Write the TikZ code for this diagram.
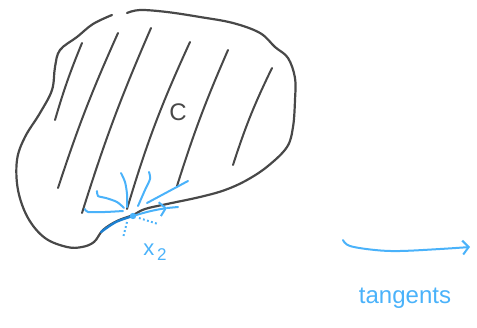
\documentclass[tikz,border=0pt]{standalone}
\usepackage{fontspec}
\setsansfont{Liberation Sans}
\usetikzlibrary{arrows.meta, calc}
\definecolor{inkgray}{RGB}{72,72,72}
\definecolor{inkblue}{RGB}{74,178,250}
\definecolor{inkdark}{RGB}{28,128,210}
\tikzset{
  % --- pen strokes ---
  pen/.style={draw=inkgray, line width=2.2pt, line cap=round, line join=round},
  hatchline/.style={pen, line width=2pt},
  bluepen/.style={draw=inkblue, line width=2pt, line cap=round, line join=round},
  darkpen/.style={draw=inkdark, line width=2.3pt, line cap=round},
  dotpen/.style={bluepen, line cap=butt, dash pattern=on 1.8pt off 2.4pt},
  barb/.style={-{Straight Barb[length=6pt, width=14pt, line width=2pt]}},
  % --- labels ---
  setlabel/.style={text=inkgray, font=\fontsize{24}{24}\sffamily, inner sep=0pt},
  bluelabel/.style={text=inkblue, font=\fontsize{22}{22}\sffamily, inner sep=0pt},
}
\begin{document}
\begin{tikzpicture}[x=1pt, y=-1pt]
  \useasboundingbox (0,0) rectangle (477,327);
  % outline of the set
  \draw[pen] plot[smooth, tension=0.6] coordinates {
    (127,13) (140,10) (167,12) (200,17) (233,23) (260,33) (275,47) (288,58)
    (295,78) (295,100) (293,127) (287,147) (268,166) (247,180) (225,190)
    (200,197) (167,204) (145,209) (133,215) (117,221) (103,230) (94,242)
    (82,247) (67,247) (45,238) (28,218) (18,190) (17,160) (25,137) (40,113)
    (52,90) (55,67) (60,50) (77,37) (93,24) (112,15)};
  % hatching
  \draw[hatchline] (82,43) to[bend right=3] (55,120);
  \draw[hatchline] (118,33) to[bend right=3] (58,188);
  \draw[hatchline] (151,28) to[bend right=3] (82,213);
  \draw[hatchline] (190,42) to[bend right=4] (127,209);
  \draw[hatchline] (228,50) to[bend right=3] (177,186);
  \draw[hatchline] (272,68) to[bend right=4] (233,165);
  \node[setlabel] (cset) at (178,112) {C};
  % the point and its directions
  \coordinate (x2) at (133,216);
  \coordinate (tanend) at (178,207);
  \draw[darkpen] plot[smooth] coordinates {(101,232) (116,222) (x2)};
  \draw[bluepen] plot[smooth] coordinates {(85,209) (88,212) (105,212) (123,211)};
  \draw[bluepen] plot[smooth] coordinates {(97,191) (98,196) (106,198) (117,202) (124,208)};
  \draw[bluepen] plot[smooth] coordinates {(121,173) (125,182) (127,194) (127,207)};
  \draw[bluepen] plot[smooth] coordinates {(149,172) (150,179) (145,190) (138,206)};
  \draw[bluepen] (188,181) -- (147,203);
  \draw[bluepen, barb] (x2) to[bend left=4] (167,208);
  \draw[bluepen] (167,208) -- (tanend);
  \draw[dotpen] (139,218) -- (158,224);
  \draw[dotpen] (127,222) -- (123,238);
  \fill[inkblue] (x2) circle (3.2pt);
  \node[bluelabel] (xlabel) at (155,252) {x\raisebox{-5pt}{\fontsize{17}{17}\selectfont\,2}};
  % tangents
  \coordinate (tstart) at (343,240);
  \coordinate (tstop) at (470,247);
  \draw[bluepen, barb] plot[smooth, tension=0.6] coordinates {(tstart) (350,246) (375,250) (400,251) (440,249) (tstop)};
  \node[bluelabel, font=\fontsize{24}{24}\sffamily] (tanlabel) at (405,298) {tangents};
\end{tikzpicture}
\end{document}
